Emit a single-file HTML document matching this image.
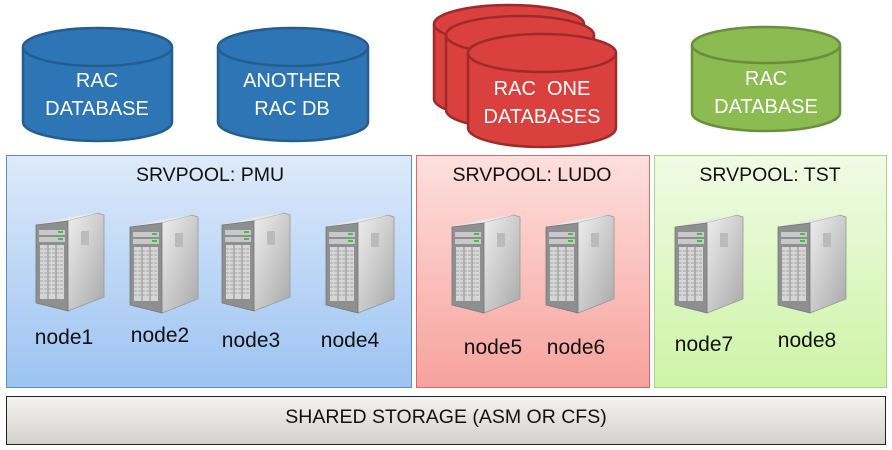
<!DOCTYPE html>
<html><head><meta charset="utf-8"><style>
html,body{margin:0;padding:0;background:#fff;}
svg{display:block;font-family:"Liberation Sans",sans-serif;}
</style></head><body>
<svg width="892" height="450" viewBox="0 0 892 450" xmlns="http://www.w3.org/2000/svg">
<defs>
<linearGradient id="gb" x1="0" y1="0" x2="0" y2="1"><stop offset="0" stop-color="#deeafa"/><stop offset="1" stop-color="#9cc3f2"/></linearGradient>
<linearGradient id="gr" x1="0" y1="0" x2="0" y2="1"><stop offset="0" stop-color="#fde0de"/><stop offset="1" stop-color="#f7a29d"/></linearGradient>
<linearGradient id="gg" x1="0" y1="0" x2="0" y2="1"><stop offset="0" stop-color="#f0fbe4"/><stop offset="1" stop-color="#cdf4a6"/></linearGradient>
<linearGradient id="gs" x1="0" y1="0" x2="0" y2="1"><stop offset="0" stop-color="#f4f3f1"/><stop offset="1" stop-color="#d2d0cc"/></linearGradient>
<linearGradient id="side" x1="0" y1="0" x2="1" y2="1"><stop offset="0" stop-color="#f0f0f0"/><stop offset="1" stop-color="#a9a9a9"/></linearGradient>
<g id="srv">
<polygon points="30,8 62,0 68,2 68,84 32,98" fill="url(#side)" stroke="#999" stroke-width="0.8"/>
<polygon points="0,12 30,8 62,0 34,4" fill="#e8e8e8"/>
<polygon points="0,12 32,8 32,98 0,90" fill="#8d8f90" stroke="#777" stroke-width="0.8"/>
<rect x="3" y="17" width="26" height="5" fill="#c9c9c9"/>
<rect x="3" y="24" width="26" height="5" fill="#c9c9c9"/>
<rect x="22" y="18" width="5" height="2" fill="#3c3"/>
<rect x="22" y="25" width="5" height="2" fill="#3c3"/>
<rect x="4" y="32" width="24" height="54" fill="#d6d6d6"/>
<g stroke="#8a8a8a" stroke-width="1"><line x1="12" y1="32" x2="12" y2="86"/><line x1="20" y1="32" x2="20" y2="86"/></g>
<g stroke="#999" stroke-width="0.8" stroke-dasharray="3,1"><line x1="4" y1="36" x2="28" y2="36"/><line x1="4" y1="40" x2="28" y2="40"/><line x1="4" y1="44" x2="28" y2="44"/><line x1="4" y1="48" x2="28" y2="48"/><line x1="4" y1="52" x2="28" y2="52"/><line x1="4" y1="56" x2="28" y2="56"/><line x1="4" y1="60" x2="28" y2="60"/><line x1="4" y1="64" x2="28" y2="64"/><line x1="4" y1="68" x2="28" y2="68"/><line x1="4" y1="72" x2="28" y2="72"/><line x1="4" y1="76" x2="28" y2="76"/><line x1="4" y1="80" x2="28" y2="80"/></g>
<rect x="45" y="18" width="8" height="14" fill="#bbb"/>
</g>
</defs>

<g stroke-width="2.5">
<path d="M23,47 L23,122 A74.5,19 0 0 0 172,122 L172,47" fill="#2e75b6" stroke="#245d8f"/>
<ellipse cx="97.5" cy="47" rx="74.5" ry="19" fill="#2e75b6" stroke="#245d8f"/>
<path d="M218,47 L218,122 A75,19 0 0 0 368,122 L368,47" fill="#2e75b6" stroke="#245d8f"/>
<ellipse cx="293" cy="47" rx="75" ry="19" fill="#2e75b6" stroke="#245d8f"/>

<path d="M434,24 L434,99 A75,19 0 0 0 584,99 L584,24" fill="#d9403e" stroke="#9e2b2a"/>
<ellipse cx="509" cy="24" rx="75" ry="19" fill="#d9403e" stroke="#9e2b2a"/>
<path d="M446,35 L446,110 A74,19 0 0 0 594,110 L594,35" fill="#d9403e" stroke="#9e2b2a"/>
<ellipse cx="520" cy="35" rx="74" ry="19" fill="#d9403e" stroke="#9e2b2a"/>
<path d="M468,53 L468,128 A74,19 0 0 0 616,128 L616,53" fill="#d9403e" stroke="#9e2b2a"/>
<ellipse cx="542" cy="53" rx="74" ry="19" fill="#d9403e" stroke="#9e2b2a"/>

<path d="M692,45 L692,113 A74,18 0 0 0 840,113 L840,45" fill="#8cbb52" stroke="#6a8f3c"/>
<ellipse cx="766" cy="45" rx="74" ry="18" fill="#8cbb52" stroke="#6a8f3c"/>
</g>
<g fill="#fff" font-size="20" text-anchor="middle">
<text x="97" y="87">RAC</text><text x="97" y="115">DATABASE</text>
<text x="292" y="87">ANOTHER</text><text x="292" y="115">RAC DB</text>
<text x="542" y="95">RAC&#160; ONE</text><text x="542" y="123">DATABASES</text>
<text x="766" y="85">RAC</text><text x="766" y="113">DATABASE</text>
</g>

<rect x="6.5" y="155.5" width="405" height="232" fill="url(#gb)" stroke="#5b8ec6"/>
<rect x="416.5" y="155.5" width="233" height="232" fill="url(#gr)" stroke="#d06c6a"/>
<rect x="654.5" y="155.5" width="232" height="232" fill="url(#gg)" stroke="#a9d48a"/>
<rect x="6.5" y="396.5" width="879" height="48" fill="url(#gs)" stroke="#222"/>

<g fill="#111" font-size="19.5" text-anchor="middle">
<text x="210" y="181">SRVPOOL: PMU</text>
<text x="532" y="181">SRVPOOL: LUDO</text>
<text x="770" y="181">SRVPOOL: TST</text>
<text x="446" y="423">SHARED STORAGE (ASM OR CFS)</text>
</g>

<use href="#srv" x="36" y="213"/>
<use href="#srv" x="130" y="215"/>
<use href="#srv" x="222" y="213"/>
<use href="#srv" x="326" y="215"/>
<use href="#srv" x="452" y="215"/>
<use href="#srv" x="546" y="215"/>
<use href="#srv" x="675" y="215"/>
<use href="#srv" x="778" y="215"/>

<g fill="#111" font-size="21" text-anchor="middle">
<text x="64" y="344">node1</text>
<text x="160" y="342">node2</text>
<text x="251" y="347">node3</text>
<text x="350" y="347">node4</text>
<text x="493" y="354">node5</text>
<text x="576" y="354">node6</text>
<text x="704" y="351">node7</text>
<text x="807" y="347">node8</text>
</g>
</svg>
</body></html>
